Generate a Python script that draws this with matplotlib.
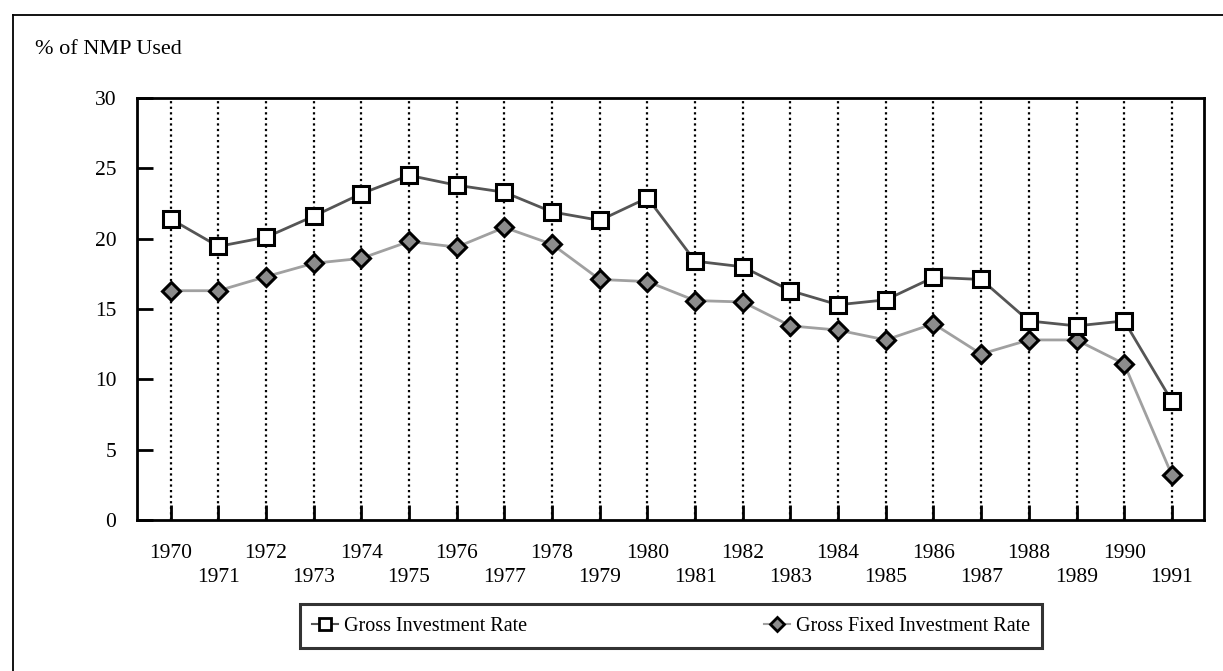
import matplotlib
matplotlib.use("Agg")
import matplotlib.pyplot as plt
from matplotlib.lines import Line2D

years = list(range(1970, 1992))
gross_investment = [21.4, 19.45, 20.1, 21.6, 23.2, 24.5, 23.8, 23.3, 21.9, 21.3, 22.9,
                    18.4, 18.0, 16.3, 15.3, 15.65, 17.25, 17.1, 14.15, 13.8, 14.15, 8.45]
gross_fixed = [16.3, 16.3, 17.3, 18.25, 18.6, 19.8, 19.4, 20.8, 19.6, 17.1, 16.95,
               15.6, 15.5, 13.8, 13.5, 12.8, 13.95, 11.8, 12.8, 12.8, 11.1, 3.2]
y_ticks = [0, 5, 10, 15, 20, 25, 30]
series_names = ["Gross Investment Rate", "Gross Fixed Investment Rate"]
y_label = "% of NMP Used"

plt.rcParams['font.family'] = ['Liberation Serif', 'DejaVu Serif']

fig = plt.figure(figsize=(12.23, 6.71), dpi=100)
W, H = 1223, 671
ax = fig.add_axes([137.3 / W, 1 - 520 / H, (1204.3 - 137.3) / W, (520 - 98) / H])

x = list(range(len(years)))
l1, = ax.plot(x, gross_investment, color='#555555', lw=2, marker='s', ms=12,
              mfc='white', mec='black', mew=2.2, zorder=4, label=series_names[0])
l2, = ax.plot(x, gross_fixed, color='#a0a0a0', lw=2, marker='D', ms=9.5,
              mfc='#8c8c8c', mec='black', mew=2.2, zorder=3, label=series_names[1])

ax.set_xlim(-0.70, len(years) - 1 + 0.68)
ax.set_ylim(0, 30)
ax.set_yticks(y_ticks)
ax.set_xticks(x)
ax.set_xticklabels([str(y) if i % 2 == 0 else "\n" + str(y) for i, y in enumerate(years)],
                   linespacing=1.35)
ax.tick_params(axis='y', direction='in', length=11.5, width=2, pad=15, labelsize=15.5)
ax.tick_params(axis='x', direction='in', length=11, width=2, pad=17, labelsize=15.5)
ax.grid(axis='x', color='black', linestyle=(0, (1, 1.5)), lw=1.6, zorder=1)
for s in ax.spines.values():
    s.set_linewidth(2)
    s.set_color('black')

fig.text(35 / W, 1 - 50 / H, y_label, fontsize=16, va='center', ha='left')

# outer frame (top and left)
fig.add_artist(Line2D([13 / W, 1.0], [1 - 15 / H, 1 - 15 / H], transform=fig.transFigure,
                      color='black', lw=1.3))
fig.add_artist(Line2D([13 / W, 13 / W], [0, 1 - 15 / H], transform=fig.transFigure,
                      color='black', lw=1.3))

h1 = Line2D([], [], color='#555555', lw=1.5, marker='s', ms=9, mfc='white', mec='black', mew=2)
h2 = Line2D([], [], color='#a0a0a0', lw=1.5, marker='D', ms=7.5, mfc='#8c8c8c', mec='black', mew=2)
leg = fig.legend([h1, h2], series_names, loc='center',
                 bbox_to_anchor=(300 / W, 1 - 652 / H, 742 / W, 52 / H), mode='expand',
                 ncol=2, fontsize=14.5, frameon=True, fancybox=False, handlelength=1.3,
                 handletextpad=0.3, borderaxespad=0, borderpad=0.6, columnspacing=4)
leg.get_frame().set_edgecolor('black')
leg.get_frame().set_linewidth(2.2)

fig.savefig("out.png", dpi=100)
